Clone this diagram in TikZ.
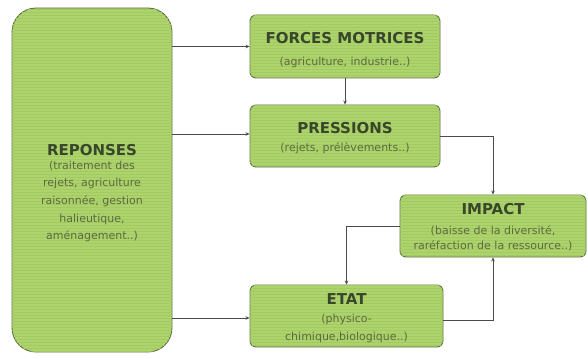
\documentclass[tikz,border=0pt]{standalone}
\usepackage{fontspec}
\setmainfont{DejaVu Sans}
\usetikzlibrary{arrows.meta,patterns}
\definecolor{boxfill}{HTML}{ADD36C}
\definecolor{boxline}{HTML}{5E6E48}
\definecolor{stripe}{HTML}{A3C962}
\definecolor{titlecol}{HTML}{38462A}
\definecolor{subcol}{HTML}{5C6B40}
\definecolor{linecol}{HTML}{4A4A4A}
\tikzset{
  box/.style={draw=boxline, line width=0.9pt, fill=boxfill, rounded corners=6pt,
    postaction={pattern=horizontal lines, pattern color=stripe}, inner sep=0pt},
  bigbox/.style={box, rounded corners=24pt},
  txt/.style={align=center, inner sep=0pt},
  ttl/.style={font=\fontsize{15}{17}\selectfont\bfseries, text=titlecol},
  sub/.style={font=\fontsize{11}{17.7}\selectfont, text=subcol},
  conn/.style={draw=linecol, line width=0.8pt, -{Stealth[length=4pt,width=3.5pt]}}
}
\begin{document}
\begin{tikzpicture}[x=1pt,y=-1pt]
\useasboundingbox (0,0) rectangle (588,358);
% boxes
\node[bigbox, minimum width=160pt, minimum height=344pt] (rep) at (92,180) {};
\node[box, minimum width=190pt, minimum height=63pt] (for) at (345,46.5) {};
\node[box, minimum width=190pt, minimum height=62pt] (pre) at (345,136) {};
\node[box, minimum width=186pt, minimum height=62pt] (imp) at (493,226) {};
\node[box, minimum width=193pt, minimum height=62pt] (eta) at (346.5,316) {};
% texts
\node[txt, ttl] (repT) at (92,150) {REPONSES};
\node[txt, sub, anchor=north] (repS) at (92,160.5) {(traitement des\\rejets, agriculture\\raisonnée, gestion\\halieutique,\\aménagement..)};
\node[txt, ttl] (forT) at (345,38) {FORCES MOTRICES};
\node[txt, sub] (forS) at (345,62) {(agriculture, industrie..)};
\node[txt, ttl] (preT) at (345,128) {PRESSIONS};
\node[txt, sub] (preS) at (345,148) {(rejets, prélèvements..)};
\node[txt, ttl] (impT) at (493,209) {IMPACT};
\node[txt, sub, font=\fontsize{11}{15}\selectfont, anchor=north] (impS) at (493,226) {(baisse de la diversité,\\raréfaction de la ressource..)};
\node[txt, ttl] (etaT) at (346.5,299) {ETAT};
\node[txt, sub, font=\fontsize{11}{18}\selectfont, anchor=north] (etaS) at (346.5,314) {(physico-\\chimique,biologique..)};
% connectors
\coordinate (r1) at (rep.east |- for.west);
\coordinate (r2) at (172,134);
\coordinate (r3) at (172,318);
\draw[conn] (r1) -- (for.west);
\draw[conn] (r2) -- (r2 -| pre.west);
\draw[conn] (r3) -- (r3 -| eta.west);
\draw[conn] (for.south) -- (pre.north);
\draw[conn] (pre.east) -| (imp.north);
\draw[conn] (imp.west) -| (eta.north);
\draw[conn] ([yshift=-4pt]eta.east) -| (imp.south);
\end{tikzpicture}
\end{document}
